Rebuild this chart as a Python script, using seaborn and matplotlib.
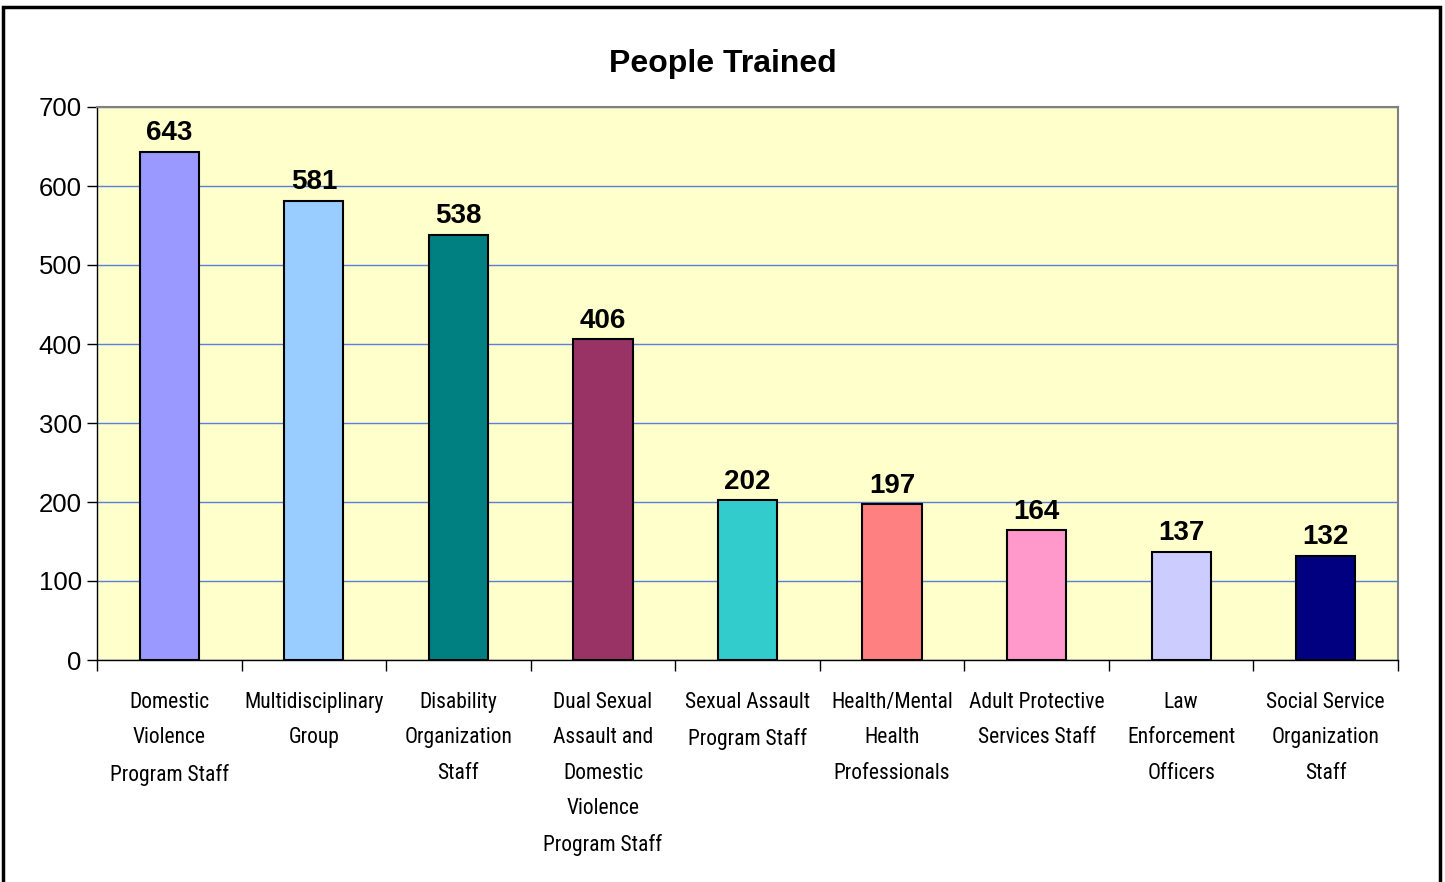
import pandas as pd
import matplotlib.pyplot as plt
import matplotlib.patches as patches
from matplotlib import font_manager
import seaborn as sns

# Chart data
categories = [
    "Domestic\nViolence\nProgram Staff",
    "Multidisciplinary\nGroup",
    "Disability\nOrganization\nStaff",
    "Dual Sexual\nAssault and\nDomestic\nViolence\nProgram Staff",
    "Sexual Assault\nProgram Staff",
    "Health/Mental\nHealth\nProfessionals",
    "Adult Protective\nServices Staff",
    "Law\nEnforcement\nOfficers",
    "Social Service\nOrganization\nStaff",
]
people_trained = [643, 581, 538, 406, 202, 197, 164, 137, 132]
bar_colors = ["#9999FF", "#99CCFF", "#008080", "#993366", "#33CCCC",
              "#FF8080", "#FF99CC", "#CCCCFF", "#000080"]
y_ticks = [0, 100, 200, 300, 400, 500, 600, 700]

df = pd.DataFrame({"group": categories, "count": people_trained})

sns.set_style("white")
plt.rcParams["font.family"] = ["Liberation Sans", "DejaVu Sans"]
plt.rcParams["text.color"] = "black"
plt.rcParams["xtick.color"] = "black"
plt.rcParams["ytick.color"] = "black"

# pick a narrow face for the category labels if one is installed
installed = {f.name for f in font_manager.fontManager.ttflist}
if "Liberation Sans Narrow" in installed:
    label_family, label_size, label_spacing = ["Liberation Sans Narrow", "Liberation Sans"], 17, 1.75
elif "Roboto Condensed" in installed:
    label_family, label_size, label_spacing = ["Roboto Condensed", "Liberation Sans"], 15.5, 1.9
else:
    label_family, label_size, label_spacing = ["Liberation Sans"], 14, 2.1

fig = plt.figure(figsize=(14.45, 8.82), dpi=100)
ax = fig.add_axes([97 / 1445, 1 - 660 / 882, 1301 / 1445, 553 / 882])
ax.set_facecolor("#FFFFCC")

sns.barplot(data=df, x="group", y="count", hue="group", palette=bar_colors,
            legend=False, width=0.41, edgecolor="black", linewidth=1.5,
            saturation=1, ax=ax, zorder=3)

ax.set_ylim(0, 700)
ax.set_xlim(-0.5, len(categories) - 0.5)
ax.set_yticks(y_ticks)
ax.set_yticklabels([str(v) for v in y_ticks], fontsize=18.5)
ax.yaxis.grid(True, color="#5B7FE0", linewidth=1, zorder=0)
ax.set_axisbelow(True)
ax.tick_params(axis="y", length=7, width=1, direction="out", left=True, pad=4)

# category boundaries as minor ticks, labels on major ticks without marks
ax.set_xticks([i + 0.5 for i in range(-1, len(categories))], minor=True)
ax.tick_params(axis="x", which="minor", length=8, width=1, direction="out", bottom=True)
ax.tick_params(axis="x", which="major", length=0, pad=23)
ax.set_xticks(range(len(categories)))
ax.set_xticklabels(categories, linespacing=label_spacing, va="top",
                   family=label_family, fontsize=label_size)

ax.set_xlabel("")
ax.set_ylabel("")

for side in ["top", "right"]:
    ax.spines[side].set_color("#808080")
    ax.spines[side].set_linewidth(1.5)
for side in ["left", "bottom"]:
    ax.spines[side].set_color("black")
    ax.spines[side].set_linewidth(1)

for container in ax.containers:
    ax.bar_label(container, fmt="%d", fontsize=20, fontweight="bold", padding=4)

fig.text(0.5, 1 - 64 / 882, "People Trained", ha="center", va="center",
         fontsize=23, fontweight="bold")

# outer chart border (bottom edge runs off the image)
fig.patches.append(patches.Rectangle((3 / 1445, -10 / 882), 1437 / 1445, 885 / 882,
                                     transform=fig.transFigure, fill=False,
                                     edgecolor="black", linewidth=2.5))

fig.savefig("out.png", dpi=100, facecolor="white")
